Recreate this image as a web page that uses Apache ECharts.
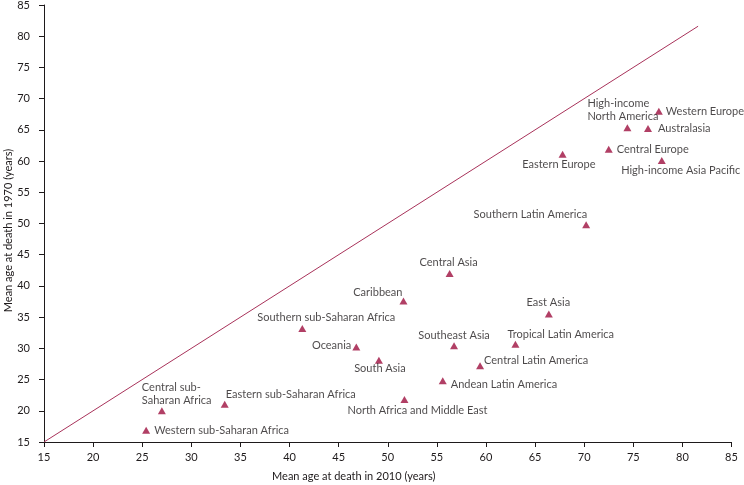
<!DOCTYPE html>
<html>
<head>
<meta charset="utf-8">
<script src="https://cdn.jsdelivr.net/npm/echarts@6/dist/echarts.min.js"></script>
<style>html,body{margin:0;padding:0;background:#fff}#c{width:744px;height:485px}</style>
</head>
<body>
<div id="c"></div>
<script>
const regions = ["Western Europe","High-income\nNorth America","Australasia","Central Europe","High-income Asia Pacific","Eastern Europe","Southern Latin America","Central Asia","Caribbean","Southern sub-Saharan Africa","Oceania","South Asia","North Africa and Middle East","Southeast Asia","Tropical Latin America","Central Latin America","East Asia","Andean Latin America","Central sub-\nSaharan Africa","Eastern sub-Saharan Africa","Western sub-Saharan Africa"];
const age2010 = [77.6,74.4,76.5,72.5,77.9,67.8,70.2,56.3,51.6,41.3,46.8,49.1,51.7,56.75,63.0,59.4,66.4,55.6,27.0,33.4,25.4];
const age1970 = [68.0,65.35,65.2,61.9,60.1,61.1,49.8,42.0,37.6,33.2,30.2,28.1,21.8,30.4,30.65,27.2,35.5,24.8,20.0,21.05,16.9];
const equalityLine = [[15,15],[81.6,81.6]];
const axisTicks = [15,20,25,30,35,40,45,50,55,60,65,70,75,80,85];

// label placement: [align, dx, dy]
const labelPlace = [["left",7,0],["left",-40,-18],["left",10,0],["left",8,0],["center",19,10],["right",33,10],["right",1,-10],["center",-1,-10.6],["right",-1,-8],["left",-45,-10.6],["right",-5,-1.3],["center",1,8.7],["left",-57,11.3],["center",0,-10],["left",-8,-10],["left",4,-5.4],["center",-0.5,-11.3],["left",8,3.3],["left",-20,-17],["left",1,-9.6],["left",8,0.7]];

const textColor = '#1e1a1b';
const mark = '#9e0f3f';
const font = 'Lato';
const fs = 11;

const pts = regions.map((r,i)=>({
  value:[age2010[i], age1970[i]],
  name:r,
  label:{show:true, position:'inside', align:labelPlace[i][0], verticalAlign:'middle', offset:[labelPlace[i][1], labelPlace[i][2]], formatter:r, color:textColor, fontFamily:font, fontSize:fs, lineHeight:13}
}));

const chart = echarts.init(document.getElementById('c'));
chart.setOption({
  animation:false,
  grid:{left:44, right:12.5, top:5, bottom:43, containLabel:false, outerBoundsMode:'none'},
  xAxis:{type:'value', min:axisTicks[0], max:axisTicks[axisTicks.length-1], interval:5,
    name:'Mean age at death in 2010 (years)', nameLocation:'middle', nameGap:29, nameMoveOverlap:false,
    nameTextStyle:{color:textColor, fontFamily:font, fontSize:fs, padding:[0,68,0,0]},
    axisLine:{lineStyle:{color:textColor, width:1}}, axisTick:{length:5, lineStyle:{color:textColor}},
    axisLabel:{color:textColor, fontFamily:font, fontSize:fs, margin:10}, splitLine:{show:false}},
  yAxis:{type:'value', min:axisTicks[0], max:axisTicks[axisTicks.length-1], interval:5,
    name:'Mean age at death in 1970 (years)', nameLocation:'middle', nameGap:30, nameRotate:90, nameMoveOverlap:false,
    nameTextStyle:{color:textColor, fontFamily:font, fontSize:fs, padding:[0,14,0,0]},
    axisLine:{show:true, lineStyle:{color:textColor, width:1}}, axisTick:{show:true, length:5, lineStyle:{color:textColor}},
    axisLabel:{color:textColor, fontFamily:font, fontSize:fs, margin:14}, splitLine:{show:false}},
  series:[
    {type:'line', data:equalityLine, showSymbol:false, symbol:'none', lineStyle:{color:'#a8325a', width:1}, silent:true, z:1},
    {type:'scatter', data:pts, symbol:'triangle', symbolSize:[8,7], itemStyle:{color:mark}, z:2}
  ]
});
</script>
</body>
</html>
